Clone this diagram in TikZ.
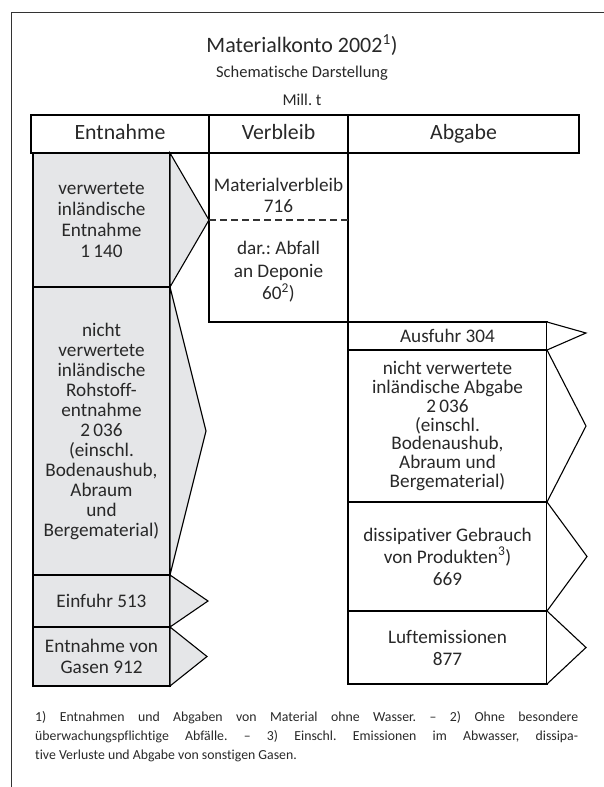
\documentclass[tikz,border=0pt]{standalone}
\usepackage{fontspec}
\setmainfont{Carlito}[Ligatures={NoCommon,TeX}]
\usetikzlibrary{positioning}
\frenchspacing
\definecolor{boxGrey}{RGB}{229,230,232}
\definecolor{txtGrey}{RGB}{40,40,40}
\newcommand{\boxfont}[1]{\fontsize{19.2}{#1}\selectfont}
\tikzstyle{hdNode} = [rectangle, draw=black, line width=2.4pt, minimum height=38pt, inner sep=0pt, outer sep=0pt, text height=15pt, text depth=4pt, text=txtGrey, font=\fontsize{21.8}{24}\selectfont]
\tikzstyle{inNode} = [rectangle, draw=black, line width=1.1pt, fill=boxGrey, minimum width=137pt, inner sep=0pt, outer sep=0pt, align=center, text=txtGrey, font=\boxfont{21}]
\tikzstyle{outNode} = [inNode, fill=white, minimum width=199pt]
\tikzstyle{tipIn} = [draw=black, line width=1.1pt, fill=boxGrey, line join=miter]
\tikzstyle{tipOut} = [tipIn, fill=white]
\tikzstyle{eNode} = [inner sep=0pt, outer sep=0pt, align=center, text=txtGrey, font=\boxfont{21}]

\begin{document}
\begin{tikzpicture}[x=1pt, y=-1pt]
        \useasboundingbox (0,0) rectangle (604,787);
        \draw[line width=1.2pt, black!80] (604,12.5) -- (11.5,12.5) -- (11.5,787);

        \node (title) [eNode, font=\fontsize{22}{24}\selectfont] at (302,45) {Materialkonto 2002\textsuperscript{1})};
        \node (sub) [eNode, font=\fontsize{16.5}{18}\selectfont] at (302,73) {Schematische Darstellung};
        \node (unit) [eNode, font=\fontsize{16.5}{18}\selectfont] at (302,100) {Mill. t};

        \node (hE) [hdNode, minimum width=178pt, anchor=north west] at (31,115) {Entnahme};
        \node (hV) [hdNode, minimum width=139pt, right=0pt of hE] {Verbleib};
        \node (hA) [hdNode, minimum width=231pt, right=0pt of hV] {Abgabe};

        \node (e1) [inNode, minimum height=134pt, below right=0pt and 2pt of hE.south west] {verwertete\\inländische\\Entnahme\\1\,140};
        \node (e2) [inNode, minimum height=288pt, font=\boxfont{20}, below=0pt of e1] {nicht\\verwertete\\inländische\\Rohstoff-\\entnahme\\2\,036\\(einschl.\\Bodenaushub,\\Abraum\\und\\Bergematerial)};
        \node (e3) [inNode, minimum height=52pt, below=0pt of e2] {Einfuhr 513};
        \node (e4) [inNode, minimum height=59pt, font=\boxfont{21.5}, below=0pt of e3] {Entnahme von\\Gasen 912};

        \filldraw [tipIn] (e1.north east) -- ([xshift=39pt]e1.east) -- (e1.south east) -- cycle;
        \filldraw [tipIn] (e2.north east) -- ([xshift=36pt]e2.east) -- (e2.south east) -- cycle;
        \filldraw [tipIn] (e3.north east) -- ([xshift=38pt]e3.east) -- (e3.south east) -- cycle;
        \filldraw [tipIn] (e4.north east) -- ([xshift=37pt]e4.east) -- (e4.south east) -- cycle;

        \node (vb) [rectangle, draw=black, line width=2.4pt, minimum width=139pt, minimum height=169pt, inner sep=0pt, outer sep=0pt, below=0pt of hV] {};
        \draw [line width=1.1pt, black!80, dash pattern=on 7pt off 4pt] (vb.west |- e1.east) -- (vb.east |- e1.east);
        \node (v1) [eNode, below=25pt of vb.north] {Materialverbleib\\716};
        \node (v2) [eNode, font=\boxfont{22.5}, below=29pt of v1] {dar.: Abfall\\an Deponie\\60\textsuperscript{2})};

        \node (a1) [outNode, minimum height=28pt, anchor=north west] at (vb.south east) {Ausfuhr 304};
        \node (a2) [outNode, minimum height=152pt, font=\boxfont{18.8}, below=0pt of a1] {nicht verwertete\\inländische Abgabe\\2\,036\\(einschl.\\Bodenaushub,\\Abraum und\\Bergematerial)};
        \node (a3) [outNode, minimum height=109pt, font=\boxfont{22}, below=0pt of a2] {dissipativer Gebrauch\\von Produkten\textsuperscript{3})\\669};
        \node (a4) [outNode, minimum height=73pt, font=\boxfont{22}, below=0pt of a3] {Luftemissionen\\877};

        \draw [tipOut] (a1.north east) -- ([xshift=39pt,yshift=3pt]a1.east) -- (a1.south east);
        \draw [tipOut] (a2.north east) -- ([xshift=39pt]a2.east) -- (a2.south east);
        \draw [tipOut] (a3.north east) -- ([xshift=40pt]a3.east) -- (a3.south east);
        \draw [tipOut] (a4.north east) -- ([xshift=39pt]a4.east) -- (a4.south east);

        \node (fn) [anchor=north west, text width=543pt, align=justify, inner sep=0pt, text=txtGrey, font=\fontsize{13.8}{19}\selectfont] at (35,711) {\tolerance=9999 1) Entnahmen und Abgaben von Material ohne Wasser. – 2) Ohne besondere\linebreak überwachungspflichtige Abfälle. – 3) Einschl. Emissionen im Abwasser, dissipa-\linebreak tive Verluste und Abgabe von sonstigen Gasen.};
\end{tikzpicture}
\end{document}
